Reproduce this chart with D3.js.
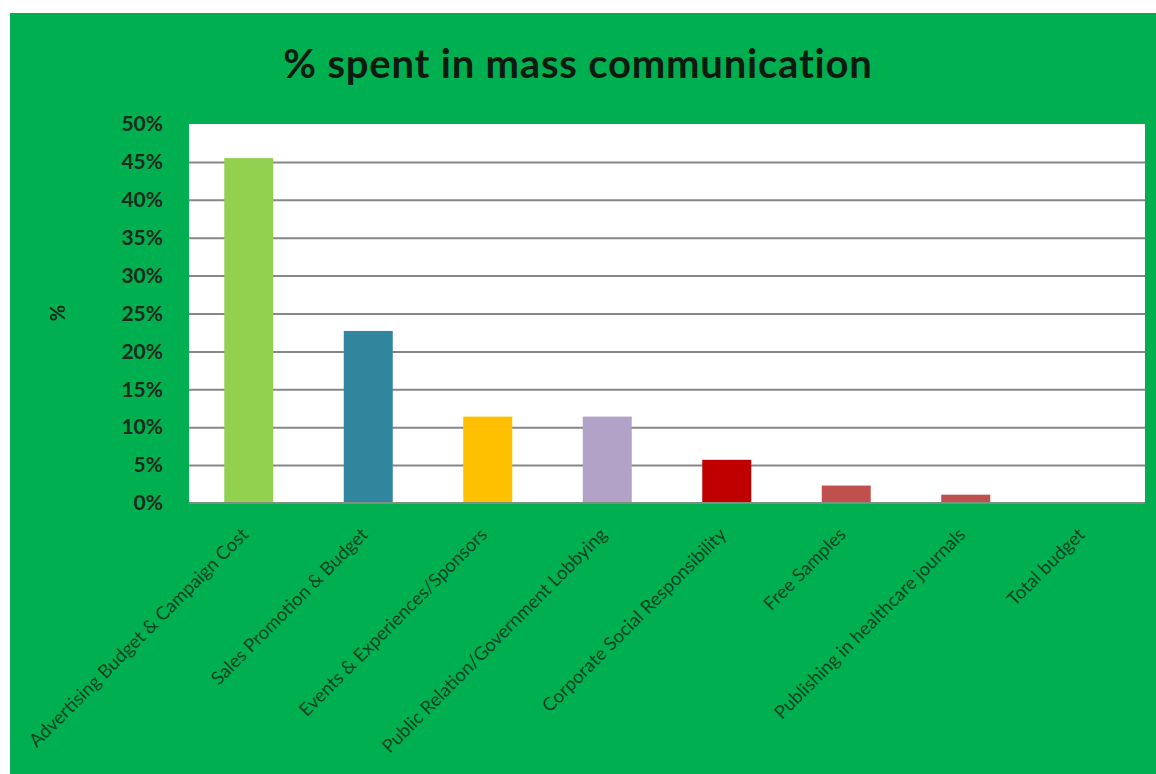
<!DOCTYPE html>
<html>
<head>
<meta charset="utf-8">
<script src="https://cdn.jsdelivr.net/npm/d3@7"></script>
<style>
  html, body { margin: 0; padding: 0; background: #ffffff; }
  svg { display: block; }
</style>
</head>
<body>
<svg id="chart" width="1156" height="774"></svg>
<script>
// Share of the communication budget per activity
const categories = [
  "Advertising Budget & Campaign Cost",
  "Sales Promotion & Budget",
  "Events & Experiences/Sponsors",
  "Public Relation/Government Lobbying",
  "Corporate Social Responsibility",
  "Free Samples",
  "Publishing in healthcare journals",
  "Total budget"
];
const shares = [0.455, 0.227, 0.114, 0.114, 0.057, 0.023, 0.011, 0];
const barColors = ["#92D050", "#31859C", "#FFC000", "#B3A2C7", "#C00000", "#C0504D", "#C0504D", "#C0504D"];
const yTicks = [0, 0.05, 0.10, 0.15, 0.20, 0.25, 0.30, 0.35, 0.40, 0.45, 0.50];
const titleText = "% spent in mass communication";
const yAxisTitle = "%";

const svg = d3.select("#chart");
const W = 1156, H = 774;
const plot = { left: 189, right: 1145, top: 124, bottom: 503 };

// chart area background
svg.append("rect")
  .attr("x", 10).attr("y", 13)
  .attr("width", W - 10).attr("height", H - 13)
  .attr("fill", "#00B050");

// plot area
svg.append("rect")
  .attr("x", plot.left).attr("y", plot.top)
  .attr("width", plot.right - plot.left).attr("height", plot.bottom - plot.top)
  .attr("fill", "#ffffff");

const x = d3.scaleBand()
  .domain(categories)
  .range([plot.left, plot.right])
  .paddingInner(0.59)
  .paddingOuter(0.295);

const y = d3.scaleLinear()
  .domain([0, 0.5])
  .range([plot.bottom, plot.top]);

// horizontal gridlines
const grid = svg.append("g")
  .attr("transform", `translate(${plot.left},0)`)
  .call(d3.axisLeft(y)
    .tickValues(yTicks.filter(t => t > 0 && t < 0.5))
    .tickSize(-(plot.right - plot.left))
    .tickFormat(""));
grid.select(".domain").remove();
grid.selectAll(".tick line")
  .attr("stroke", "#878787")
  .attr("stroke-width", 2);

// bars
svg.append("g")
  .selectAll("rect")
  .data(categories)
  .join("rect")
  .attr("x", d => x(d))
  .attr("width", x.bandwidth())
  .attr("y", (d, i) => y(shares[i]))
  .attr("height", (d, i) => y(0) - y(shares[i]))
  .attr("fill", (d, i) => barColors[i]);

// baseline
svg.append("line")
  .attr("x1", plot.left).attr("x2", plot.right)
  .attr("y1", y(0)).attr("y2", y(0))
  .attr("stroke", "#7f8f7f")
  .attr("stroke-width", 2);

// y axis labels
const yAxis = svg.append("g")
  .attr("transform", `translate(${plot.left},0)`)
  .call(d3.axisLeft(y)
    .tickValues(yTicks)
    .tickSize(0)
    .tickPadding(26)
    .tickFormat(d3.format(".0%")));
yAxis.select(".domain").remove();
yAxis.selectAll("text")
  .attr("font-family", "Lato, 'Open Sans', sans-serif")
  .attr("font-size", 21)
  .attr("font-weight", 700)
  .attr("fill", "#1b2a1b");

// x axis labels, rotated
const xAxis = svg.append("g")
  .attr("transform", `translate(0,${plot.bottom})`)
  .call(d3.axisBottom(x).tickSize(0).tickFormat(d => d));
xAxis.select(".domain").remove();
xAxis.selectAll("text")
  .attr("font-family", "Lato, 'Open Sans', sans-serif")
  .attr("font-size", 18.5)
  .attr("fill", "#0b4420")
  .attr("text-anchor", "end")
  .attr("dy", "0.35em")
  .attr("transform", "translate(-6,26) rotate(-45)");

// chart title
svg.append("text")
  .attr("x", 578).attr("y", 78)
  .attr("text-anchor", "middle")
  .attr("font-family", "Lato, 'Open Sans', sans-serif")
  .attr("font-size", 40)
  .attr("font-weight", 700)
  .attr("letter-spacing", 0.8)
  .attr("fill", "#0d1a10")
  .text(titleText);

// y axis title
svg.append("text")
  .attr("transform", "translate(58,313) rotate(-90)")
  .attr("text-anchor", "middle")
  .attr("dy", "0.35em")
  .attr("font-family", "Lato, 'Open Sans', sans-serif")
  .attr("font-size", 20)
  .attr("font-weight", 700)
  .attr("fill", "#1b2a1b")
  .text(yAxisTitle);
</script>
</body>
</html>
